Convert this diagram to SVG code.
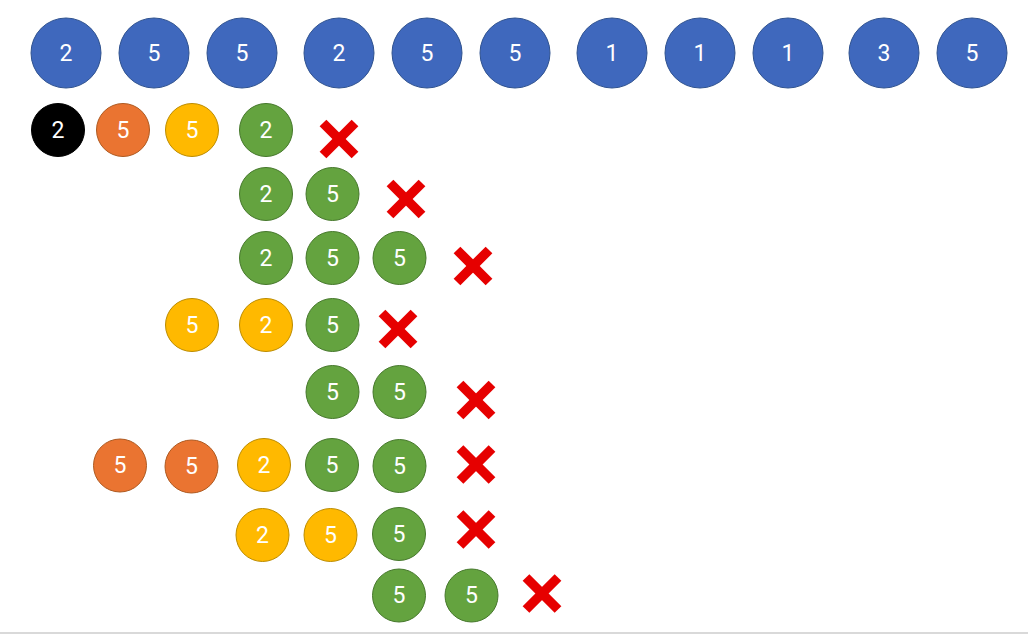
<svg xmlns="http://www.w3.org/2000/svg" width="1028" height="634" viewBox="0 0 1028 634">
<defs>
<style>
.b{fill:#3F68BD;stroke:#2F528F;stroke-width:1}
.k{fill:#000;stroke:#000;stroke-width:1}
.o{fill:#EA7431;stroke:#AE5A21;stroke-width:1}
.y{fill:#FFB900;stroke:#BC8C00;stroke-width:1}
.g{fill:#64A33F;stroke:#46782C;stroke-width:1}
text{font-family:Roboto,"Liberation Sans",sans-serif;fill:#fff;text-anchor:middle;dominant-baseline:central}
.t{font-size:23px}
.s{font-size:23px}
.x line{stroke:#E60000;stroke-width:9.5;stroke-linecap:butt}
</style>
<g id="xm" class="x"><line x1="-16" y1="-16" x2="16" y2="16"/><line x1="-16" y1="16" x2="16" y2="-16"/></g>
</defs>
<rect width="1028" height="634" fill="#fff"/>
<g id="top">
<g id="t1"><circle class="b" cx="66" cy="53" r="35"/><text class="t" x="66" y="53">2</text></g>
<g id="t2"><circle class="b" cx="154" cy="53" r="35"/><text class="t" x="154" y="53">5</text></g>
<g id="t3"><circle class="b" cx="242" cy="53" r="35"/><text class="t" x="242" y="53">5</text></g>
<g id="t4"><circle class="b" cx="339" cy="53" r="35"/><text class="t" x="339" y="53">2</text></g>
<g id="t5"><circle class="b" cx="427" cy="53" r="35"/><text class="t" x="427" y="53">5</text></g>
<g id="t6"><circle class="b" cx="515" cy="53" r="35"/><text class="t" x="515" y="53">5</text></g>
<g id="t7"><circle class="b" cx="612" cy="53" r="35"/><text class="t" x="612" y="53">1</text></g>
<g id="t8"><circle class="b" cx="700" cy="53" r="35"/><text class="t" x="700" y="53">1</text></g>
<g id="t9"><circle class="b" cx="788" cy="53" r="35"/><text class="t" x="788" y="53">1</text></g>
<g id="t10"><circle class="b" cx="884" cy="53" r="35"/><text class="t" x="884" y="53">3</text></g>
<g id="t11"><circle class="b" cx="972" cy="53" r="35"/><text class="t" x="972" y="53">5</text></g>
</g>
<g id="row1">
<g id="r1a"><circle class="k" cx="58" cy="130" r="26.5"/><text class="s" x="58" y="130">2</text></g>
<g id="r1b"><circle class="o" cx="123" cy="130" r="26.5"/><text class="s" x="123" y="130">5</text></g>
<g id="r1c"><circle class="y" cx="192" cy="130" r="26.5"/><text class="s" x="192" y="130">5</text></g>
<g id="r1d"><circle class="g" cx="266" cy="130" r="26.5"/><text class="s" x="266" y="130">2</text></g>
<use href="#xm" x="339" y="139"/>
</g>
<g id="row2">
<g id="r2a"><circle class="g" cx="266" cy="194" r="26.5"/><text class="s" x="266" y="194">2</text></g>
<g id="r2b"><circle class="g" cx="332.5" cy="194" r="26.5"/><text class="s" x="332.5" y="194">5</text></g>
<use href="#xm" x="406" y="199"/>
</g>
<g id="row3">
<g id="r3a"><circle class="g" cx="266" cy="258" r="26.5"/><text class="s" x="266" y="258">2</text></g>
<g id="r3b"><circle class="g" cx="332.5" cy="258" r="26.5"/><text class="s" x="332.5" y="258">5</text></g>
<g id="r3c"><circle class="g" cx="399.5" cy="258" r="26.5"/><text class="s" x="399.5" y="258">5</text></g>
<use href="#xm" x="473" y="266"/>
</g>
<g id="row4">
<g id="r4a"><circle class="y" cx="192" cy="325" r="26.5"/><text class="s" x="192" y="325">5</text></g>
<g id="r4b"><circle class="y" cx="266" cy="325" r="26.5"/><text class="s" x="266" y="325">2</text></g>
<g id="r4c"><circle class="g" cx="332.5" cy="325" r="26.5"/><text class="s" x="332.5" y="325">5</text></g>
<use href="#xm" x="398" y="329"/>
</g>
<g id="row5">
<g id="r5a"><circle class="g" cx="332.5" cy="392" r="26.5"/><text class="s" x="332.5" y="392">5</text></g>
<g id="r5b"><circle class="g" cx="399.5" cy="392" r="26.5"/><text class="s" x="399.5" y="392">5</text></g>
<use href="#xm" x="476" y="400"/>
</g>
<g id="row6">
<g id="r6a"><circle class="o" cx="120" cy="465.5" r="26.5"/><text class="s" x="120" y="465.5">5</text></g>
<g id="r6b"><circle class="o" cx="191.5" cy="466.5" r="26.5"/><text class="s" x="191.5" y="466.5">5</text></g>
<g id="r6c"><circle class="y" cx="264" cy="465" r="26.5"/><text class="s" x="264" y="465">2</text></g>
<g id="r6d"><circle class="g" cx="332" cy="465" r="26.5"/><text class="s" x="332" y="465">5</text></g>
<g id="r6e"><circle class="g" cx="399.5" cy="466" r="26.5"/><text class="s" x="399.5" y="466">5</text></g>
<use href="#xm" x="476" y="464.5"/>
</g>
<g id="row7">
<g id="r7a"><circle class="y" cx="262.5" cy="535" r="26.5"/><text class="s" x="262.5" y="535">2</text></g>
<g id="r7b"><circle class="y" cx="330.5" cy="535" r="26.5"/><text class="s" x="330.5" y="535">5</text></g>
<g id="r7c"><circle class="g" cx="399" cy="534" r="26.5"/><text class="s" x="399" y="534">5</text></g>
<use href="#xm" x="476" y="529.5"/>
</g>
<g id="row8">
<g id="r8a"><circle class="g" cx="399" cy="595.5" r="26.5"/><text class="s" x="399" y="595.5">5</text></g>
<g id="r8b"><circle class="g" cx="471.5" cy="595.5" r="26.5"/><text class="s" x="471.5" y="595.5">5</text></g>
<use href="#xm" x="542" y="593.5"/>
</g>
<g id="connectors"></g>
<rect x="0" y="632" width="1028" height="2" fill="#D9D9D9"/>
</svg>
